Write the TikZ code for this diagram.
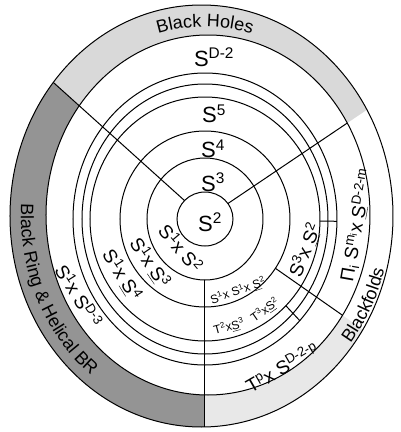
\documentclass[tikz,border=0pt]{standalone}
\usepackage{fontspec}
\setmainfont{Liberation Sans}
\usetikzlibrary{decorations.text}

\newcommand{\uS}{\underline{S}}

\begin{document}
\begin{tikzpicture}[x=1pt,y=1pt,
  ring/.style={black, line width=1pt},
  biglabel/.style={font=\fontsize{22}{22}\selectfont, inner sep=0pt},
  arclabel/.style={font=\fontsize{19}{19}\selectfont, inner sep=0pt},
  tinylabel/.style={font=\fontsize{12}{12}\selectfont, inner sep=0pt}]
\useasboundingbox (-206,-211) rectangle (195,221);
\coordinate (c) at (-1,2);
\begin{scope}[even odd rule]
\clip (-4.5,5) ellipse [x radius=191.5, y radius=211] (2,6) ellipse [x radius=162, y radius=180];
\fill[black!15] (c) -- ++(138:300) arc[start angle=138, end angle=34, radius=300] -- cycle;
\fill[black!42] (c) -- ++(138:300) arc[start angle=138, end angle=270, radius=300] -- cycle;
\fill[black!9] (c) -- ++(270:300) arc[start angle=270, end angle=325, radius=300] -- cycle;
\end{scope}
\draw[ring] (-4.5,5) ellipse [x radius=191.5, y radius=211];
\draw[ring] (2,6) ellipse [x radius=162, y radius=180];
\foreach \rx/\ry in {28/27,58/61,85/88,115/122,123/135,132/146}
  \draw[ring] (c) ellipse [x radius=\rx, y radius=\ry];
\begin{scope}[even odd rule]
\clip (-4.5,5) ellipse [x radius=191.5, y radius=211] (c) ellipse [x radius=28, y radius=27];
\draw[ring] (c) -- ++(138:300);
\end{scope}
\begin{scope}[even odd rule]
\clip (-4.5,5) ellipse [x radius=191.5, y radius=211] (c) ellipse [x radius=58, y radius=61];
\draw[ring] (c) -- ++(270:300);
\end{scope}
\begin{scope}[even odd rule]
\clip (2,6) ellipse [x radius=162, y radius=180] (c) ellipse [x radius=28, y radius=27];
\draw[ring] (c) -- ++(34:300);
\end{scope}
\begin{scope}[even odd rule]
\clip (2,6) ellipse [x radius=162, y radius=180] (c) ellipse [x radius=85, y radius=88];
\draw[ring] (c) -- ++(-35:300);
\end{scope}
\begin{scope}[even odd rule]
\clip (c) ellipse [x radius=132, y radius=146] (c) ellipse [x radius=115, y radius=122];
\draw[ring] (c) -- ++(-1:300);
\draw[ring] (c) -- ++(-47:300);
\end{scope}
\path[decorate, decoration={text along path, text align=center,
  text={|\fontsize{18}{18}\selectfont|Black Holes}}]
  (-1,5) ++(118:175 and 189) arc[start angle=118, end angle=62, x radius=175, y radius=189];
\path[decorate, decoration={text along path, text align=center,
  text={|\fontsize{18}{18}\selectfont|Black Ring {\&} Helical BR}}]
  (-1,5) ++(166:184 and 203) arc[start angle=166, end angle=243, x radius=184, y radius=203];
\path[decorate, decoration={text along path, text align=center,
  text={|\fontsize{18}{18}\selectfont|Blackfolds}}]
  (-1,5) ++(-46:186 and 205) arc[start angle=-46, end angle=-8, x radius=186, y radius=205];
\node[biglabel] (sdm2) at (8,164) {S\textsuperscript{D-2}};
\node[biglabel] (sfive) at (8,107) {S\textsuperscript{5}};
\node[biglabel] (sfour) at (7,72) {S\textsuperscript{4}};
\node[biglabel] (sthree) at (7,39) {S\textsuperscript{3}};
\node[biglabel] (stwo) at (4,-1) {S\textsuperscript{2}};
\node[arclabel, rotate=-50] (ring5) at (-25,-27) {S\textsuperscript{1}x S\textsuperscript{2}};
\node[arclabel, rotate=-56] (ring6) at (-56,-42) {S\textsuperscript{1}x \uS\textsuperscript{3}};
\node[arclabel, rotate=-58] (ring7) at (-84,-54) {S\textsuperscript{1}x \uS\textsuperscript{4}};
\node[arclabel, rotate=-58] (ringd) at (-127,-75) {S\textsuperscript{1}x S\textsuperscript{D-3}};
\node[arclabel, rotate=30] (torus) at (76,-146) {T\textsuperscript{p}x S\textsuperscript{D-2-p}};
\node[arclabel, rotate=80] (prod) at (151,-4) {Π\textsubscript{i} S\textsuperscript{m\textsubscript{i}}x \uS\textsuperscript{D-2-m}};
\node[arclabel, rotate=68] (sthreetwo) at (99,-29) {S\textsuperscript{3}x \uS\textsuperscript{2}};
\node[tinylabel, rotate=19] (ssstwo) at (32,-70) {S\textsuperscript{1}x S\textsuperscript{1}x \uS\textsuperscript{2}};
\node[tinylabel, rotate=15] (ttwo) at (23,-106) {T\textsuperscript{2}x\uS\textsuperscript{3}};
\node[tinylabel, rotate=35] (tthree) at (59,-89) {T\textsuperscript{3}x\uS\textsuperscript{2}};
\end{tikzpicture}
\end{document}
